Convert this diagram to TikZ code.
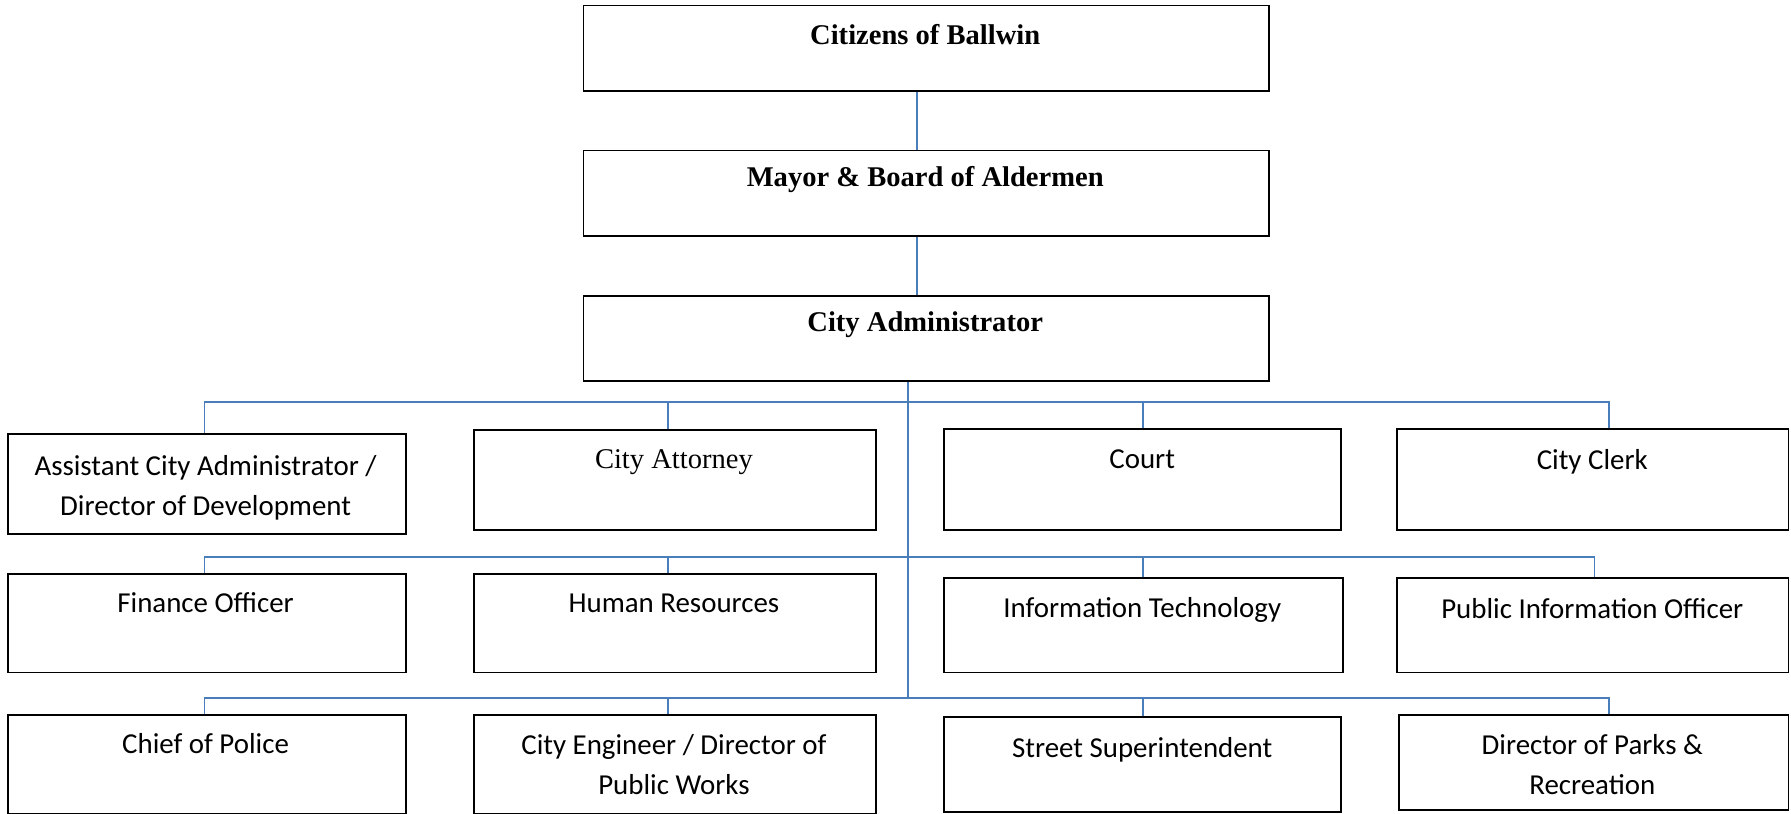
\documentclass[tikz,border=0pt]{standalone}
\usepackage{fontspec}
\setmainfont{Liberation Serif}
\newfontfamily\calibri{Carlito}
\definecolor{linkblue}{HTML}{4A7EBB}
\begin{document}
\begin{tikzpicture}[x=1pt,y=1pt,
  box/.style={draw=black, line width=1.6pt, anchor=north west, inner sep=0pt},
  head/.style={font=\fontsize{25}{30}\selectfont\bfseries, inner sep=0pt},
  serif/.style={font=\fontsize{25}{30}\selectfont, inner sep=0pt},
  sans/.style={font=\calibri\fontsize{25.3}{35}\selectfont, align=center, inner sep=0pt},
  link/.style={draw=linkblue, line width=1.6pt}
]
\useasboundingbox (0,0) rectangle (1568,-712);
\fill[white] (0,0) rectangle (1568,-712);

% top chain
\node[box, minimum width=600pt, minimum height=75pt] (cit) at (510,-4) {};
\node[box, minimum width=600pt, minimum height=75pt] (may) at (510,-131) {};
\node[box, minimum width=600pt, minimum height=75pt] (adm) at (510,-258) {};
\node[head] (citT) at (810,-30) {Citizens of Ballwin};
\node[head] (mayT) at (810,-157) {Mayor \& Board of Aldermen};
\node[head] (admT) at (810,-284) {City Administrator};

% row 1
\node[box, minimum width=349pt, minimum height=88pt] (r1a) at (6,-379) {};
\node[box, minimum width=352pt, minimum height=87pt] (r1b) at (414,-376) {};
\node[box, minimum width=347pt, minimum height=88pt] (r1c) at (826,-375) {};
\node[box, minimum width=343pt, minimum height=88pt] (r1d) at (1222,-375) {};
\node[sans] (r1aT) at (180,-427) {Assistant City Administrator /\\Director of Development};
\node[serif] (r1bT) at (590,-405) {City Attorney};
\node[sans] (r1cT) at (1000,-402) {Court};
\node[sans] (r1dT) at (1394,-404) {City Clerk};

% row 2
\node[box, minimum width=349pt, minimum height=86pt] (r2a) at (6,-502) {};
\node[box, minimum width=352pt, minimum height=86pt] (r2b) at (414,-502) {};
\node[box, minimum width=349pt, minimum height=83pt] (r2c) at (826,-505) {};
\node[box, minimum width=343pt, minimum height=83pt] (r2d) at (1222,-505) {};
\node[sans] (r2aT) at (180,-528) {Finance Officer};
\node[sans] (r2bT) at (590,-528) {Human Resources};
\node[sans] (r2cT) at (1000,-534) {Information Technology};
\node[sans] (r2dT) at (1394,-533) {Public Information Officer};

% row 3
\node[box, minimum width=349pt, minimum height=87pt] (r3a) at (6,-625) {};
\node[box, minimum width=352pt, minimum height=87pt] (r3b) at (414,-625) {};
\node[box, minimum width=347pt, minimum height=83pt] (r3c) at (826,-627) {};
\node[box, minimum width=341pt, minimum height=83pt] (r3d) at (1224,-625) {};
\node[sans] (r3aT) at (180,-651) {Chief of Police};
\node[sans] (r3bT) at (590,-669) {City Engineer / Director of\\Public Works};
\node[sans] (r3cT) at (1000,-656) {Street Superintendent};
\node[sans] (r3dT) at (1394,-669) {Director of Parks \&\\Recreation};

% connector points
\coordinate (k1) at (803,0);
\coordinate (trunk) at (795,0);
\coordinate (bus1) at (0,-352);
\coordinate (bus2) at (0,-488);
\coordinate (bus3) at (0,-611);

\draw[link] (cit.south -| k1) -- (may.north -| k1);
\draw[link] (may.south -| k1) -- (adm.north -| k1);
\draw[link] (adm.south -| trunk) -- (bus3 -| trunk);

% bus lines with drops
\draw[link] (r1a.north -| 179,0) |- (bus1 -| 1409,0) -- (r1d.north -| 1409,0);
\draw[link] (bus1 -| 585,0) -- (r1b.north -| 585,0);
\draw[link] (bus1 -| 1001,0) -- (r1c.north -| 1001,0);

\draw[link] (r2a.north -| 179,0) |- (bus2 -| 1396,0) -- (r2d.north -| 1396,0);
\draw[link] (bus2 -| 585,0) -- (r2b.north -| 585,0);
\draw[link] (bus2 -| 1001,0) -- (r2c.north -| 1001,0);

\draw[link] (r3a.north -| 179,0) |- (bus3 -| 1409,0) -- (r3d.north -| 1409,0);
\draw[link] (bus3 -| 585,0) -- (r3b.north -| 585,0);
\draw[link] (bus3 -| 1001,0) -- (r3c.north -| 1001,0);
\end{tikzpicture}
\end{document}
